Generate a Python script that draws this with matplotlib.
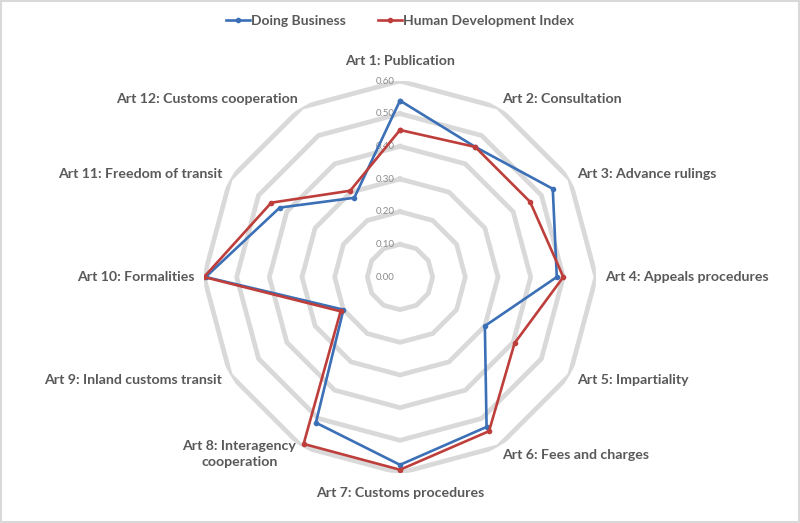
import numpy as np
from matplotlib import pyplot as plt

# datos
categorias = ["Art 1: Publication", "Art 2: Consultation", "Art 3: Advance rulings",
              "Art 4: Appeals procedures", "Art 5: Impartiality", "Art 6: Fees and charges",
              "Art 7: Customs procedures", "Art 8: Interagency\ncooperation",
              "Art 9: Inland customs transit", "Art 10: Formalities",
              "Art 11: Freedom of transit", "Art 12: Customs cooperation"]
doing_business = [0.54, 0.46, 0.54, 0.48, 0.30, 0.53, 0.575, 0.515, 0.20, 0.595, 0.425, 0.28]
hdi = [0.45, 0.46, 0.46, 0.50, 0.405, 0.545, 0.59, 0.59, 0.21, 0.60, 0.455, 0.305]
niveles = [0.10, 0.20, 0.30, 0.40, 0.50, 0.60]
etiquetas_r = ["0.00", "0.10", "0.20", "0.30", "0.40", "0.50", "0.60"]

azul = "#3b6fb6"
rojo = "#be3e3b"
gris = "#595959"
plt.rcParams['font.family'] = ['Lato', 'DejaVu Sans']

n = len(categorias)
ang = np.arange(n) * 2 * np.pi / n

fig = plt.figure(figsize=(8, 5.23), dpi=100)
ax = fig.add_axes([0.255, 0.0956, 0.49, 0.7495], projection='polar')
ax.set_theta_zero_location('N')
ax.set_theta_direction(-1)
ax.set_ylim(0, 0.6)
ax.axis('off')

# rejilla poligonal
ang_c = np.append(ang, ang[0])
for lv in niveles:
    ax.plot(ang_c, [lv] * (n + 1), color="#d9d9d9", lw=3.4, zorder=1, solid_joinstyle='miter')

# etiquetas del eje radial
for i, t in enumerate(etiquetas_r):
    ax.annotate(t, xy=(0, i * 0.1), xytext=(-4, 0), textcoords='offset points',
                ha='right', va='center', fontsize=7, color="#8c8c8c")

db = doing_business + doing_business[:1]
hd = hdi + hdi[:1]
l1, = ax.plot(ang_c, db, color=azul, lw=1.9, marker='o', ms=3, zorder=3, label="Doing Business")
l2, = ax.plot(ang_c, hd, color=rojo, lw=1.9, marker='o', ms=3, zorder=3, label="Human Development Index")

# etiquetas de categorias
for a, c in zip(ang, categorias):
    s, co = np.sin(a), np.cos(a)
    if abs(s) < 0.01:
        ha = 'center'
    elif s > 0:
        ha = 'left'
    else:
        ha = 'right'
    dx = 6.5 * s
    dy = 6.5 * co
    if abs(s) < 0.01:
        dy = 14.5 * co
    if '\n' in c:
        dy = -5.5
        dx = -4
    ax.annotate(c, xy=(a, 0.6), xytext=(dx, dy), textcoords='offset points',
                ha=ha, va='center', fontsize=10.2, color=gris, fontweight='bold',
                multialignment='center', annotation_clip=False, linespacing=1.4)

fig.legend(handles=[l1, l2], loc='upper center', bbox_to_anchor=(0.5, 0.995), ncol=2,
           frameon=False, handlelength=1.7, handletextpad=0.1,
           columnspacing=2.3, prop={'weight': 'bold', 'size': 10}, labelcolor=gris)

# borde
fig.patches.append(plt.Rectangle((0.001, 0.001), 0.998, 0.997, transform=fig.transFigure,
                                 fill=False, edgecolor="#d9d9d9", lw=1.5))
fig.savefig("out.png", dpi=100)
